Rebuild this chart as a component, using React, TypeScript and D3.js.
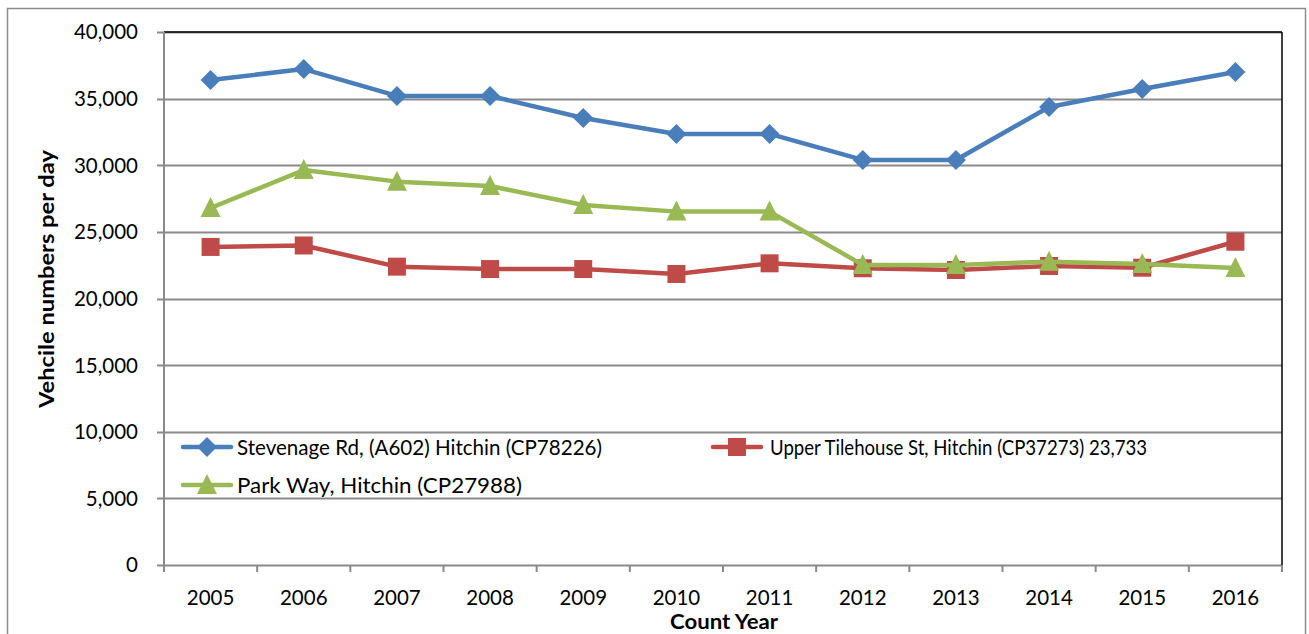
import React from "react";
import * as d3 from "d3";

const years = ["2005","2006","2007","2008","2009","2010","2011","2012","2013","2014","2015","2016"];
const stevenage = [36400, 37220, 35200, 35200, 33550, 32350, 32350, 30400, 30400, 34370, 35720, 37000];
const tilehouse = [23870, 23980, 22390, 22210, 22210, 21840, 22640, 22270, 22140, 22440, 22310, 24260];
const parkway = [26790, 29640, 28770, 28440, 27020, 26520, 26520, 22520, 22520, 22760, 22590, 22290];
const yTicks = [0, 5000, 10000, 15000, 20000, 25000, 30000, 35000, 40000];
const seriesNames = [
  "Stevenage Rd, (A602) Hitchin (CP78226)",
  "Upper Tilehouse St, Hitchin (CP37273) 23,733",
  "Park Way, Hitchin (CP27988)",
];

const W = 1309, H = 634;
const L = 164, R = 1282, T = 32, B = 565;
const FONT = "Lato, 'Open Sans', sans-serif";

const colors = { blue: "#4A7EBB", red: "#BE4B48", green: "#98B954" };

function Marker({ kind, x, y, color }: { kind: string; x: number; y: number; color: string }) {
  if (kind === "diamond") {
    const s = 10;
    return <path d={`M${x},${y - s}L${x + s},${y}L${x},${y + s}L${x - s},${y}Z`} fill={color} />;
  }
  if (kind === "square") {
    const s = 9;
    return <rect x={x - s} y={y - s} width={2 * s} height={2 * s} fill={color} />;
  }
  const s = 10;
  return <path d={`M${x},${y - s - 1}L${x + s},${y + s - 1}L${x - s},${y + s - 1}Z`} fill={color} />;
}

export default function App() {
  const x = d3.scaleBand().domain(years).range([L, R]).padding(0);
  const y = d3.scaleLinear().domain([0, 40000]).range([B, T]);
  const cx = (yr: string) => (x(yr) as number) + x.bandwidth() / 2;
  const line = d3.line<[string, number]>().x(d => cx(d[0])).y(d => y(d[1]));
  const fmt = d3.format(",");

  const series = [
    { vals: stevenage, color: colors.blue, kind: "diamond" },
    { vals: tilehouse, color: colors.red, kind: "square" },
    { vals: parkway, color: colors.green, kind: "triangle" },
  ];
  const drawOrder = [1, 2, 0];

  const legend = [
    { i: 0, lx: 183, ly: 447, tx: 237, len: 365 },
    { i: 1, lx: 713, ly: 447, tx: 770, len: 377 },
    { i: 2, lx: 183, ly: 485, tx: 237, len: 285 },
  ];

  return (
    <svg width={W} height={H} style={{ position: "absolute", left: 0, top: 0, background: "#fff" }} fontFamily={FONT}>
      <rect x={7.5} y={8.5} width={1298} height={700} fill="#fff" stroke="#8c8c8c" strokeWidth={1.5} />
      {yTicks.map(t => (
        <g key={t}>
          <line x1={L - 7} x2={R} y1={Math.round(y(t)) + 0.5} y2={Math.round(y(t)) + 0.5} stroke="#8a8a8a" strokeWidth={2} />
          <text x={138} y={y(t)} dy="0.36em" textAnchor="end" fontSize={20.5} fill="#000">{fmt(t)}</text>
        </g>
      ))}
      <line x1={L} x2={R} y1={T} y2={T} stroke="#000" strokeWidth={1.5} />
      <line x1={R} x2={R} y1={T} y2={B} stroke="#000" strokeWidth={1.5} />
      <line x1={L} x2={L} y1={T} y2={B + 1} stroke="#8a8a8a" strokeWidth={2} />
      {years.map(yr => (
        <line key={"t" + yr} x1={x(yr) as number} x2={x(yr) as number} y1={B} y2={B + 7} stroke="#8a8a8a" strokeWidth={2} />
      ))}
      <line x1={R} x2={R} y1={B} y2={B + 7} stroke="#8a8a8a" strokeWidth={2} />
      {years.map(yr => (
        <text key={"l" + yr} x={cx(yr)} y={605} textAnchor="middle" fontSize={20.5} fill="#000">{yr}</text>
      ))}
      <text transform={`translate(54,279) rotate(-90)`} textAnchor="middle" fontSize={21} fontWeight="bold" fill="#000" textLength={258} lengthAdjust="spacingAndGlyphs">Vehcile numbers per day</text>
      <text x={724} y={629} textAnchor="middle" fontSize={20} fontWeight="bold" fill="#000" textLength={108} lengthAdjust="spacingAndGlyphs">Count Year</text>

      {drawOrder.map(i => {
        const s = series[i];
        const pts = years.map((yr, k) => [yr, s.vals[k]] as [string, number]);
        return (
          <g key={"s" + i}>
            <path d={line(pts) || ""} fill="none" stroke={s.color} strokeWidth={4.5} strokeLinejoin="round" />
            {pts.map(p => (
              <Marker key={p[0]} kind={s.kind} x={cx(p[0])} y={y(p[1])} color={s.color} />
            ))}
          </g>
        );
      })}

      {legend.map(e => {
        const s = series[e.i];
        return (
          <g key={"lg" + e.i}>
            <line x1={e.lx} x2={e.lx + 48} y1={e.ly} y2={e.ly} stroke={s.color} strokeWidth={4.5} strokeLinecap="round" />
            <Marker kind={s.kind} x={e.lx + 24} y={e.ly} color={s.color} />
            <text x={e.tx} y={e.ly + 8} fontSize={21} fill="#000" textLength={e.len} lengthAdjust="spacingAndGlyphs">{seriesNames[e.i]}</text>
          </g>
        );
      })}
    </svg>
  );
}
